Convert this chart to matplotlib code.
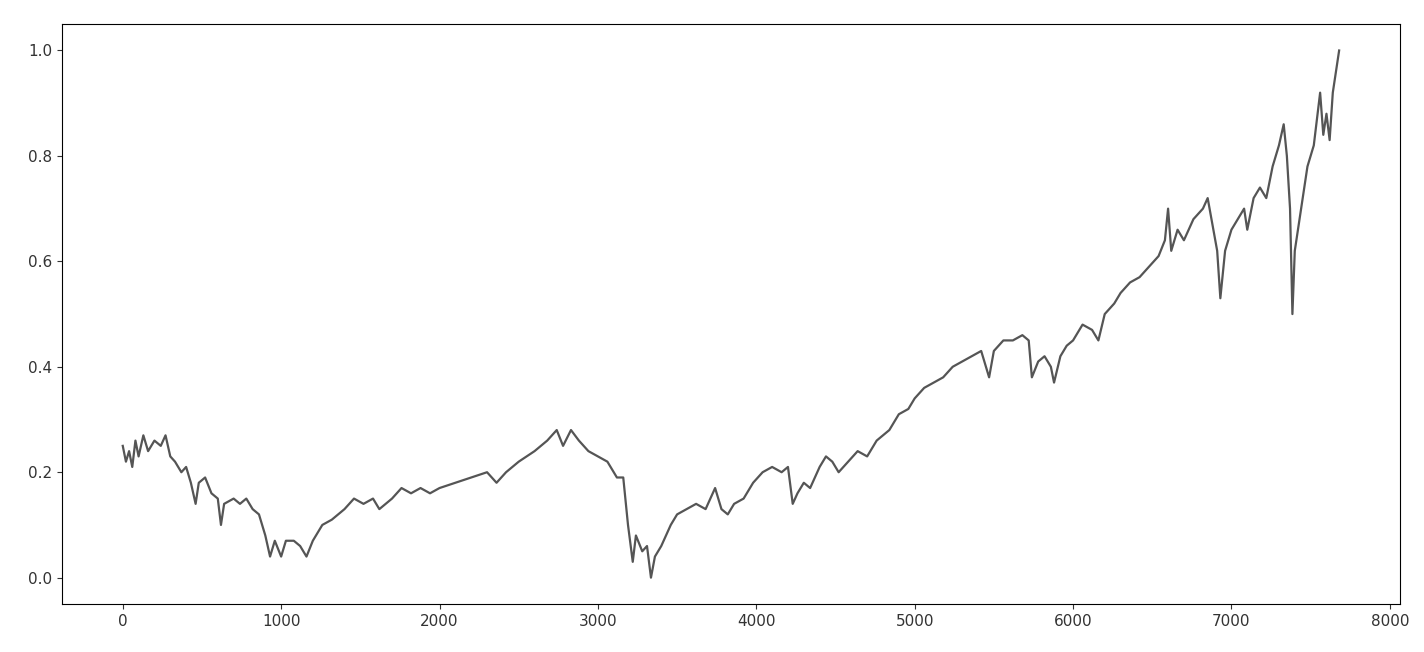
import matplotlib
matplotlib.use("Agg")
import matplotlib.pyplot as plt

x_vals = [0,20,40,60,80,100,130,160,200,240,270,300,330,370,400,430,460,480,520,560,600,620,640,700,740,780,820,860,900,930,960,1000,1030,1080,1120,1160,1200,1260,1320,1400,1460,1520,1580,1620,1700,1760,1820,1880,1940,2000,2100,2200,2300,2360,2420,2500,2600,2680,2740,2780,2830,2880,2940,3000,3060,3120,3160,3190,3220,3240,3280,3310,3335,3360,3400,3460,3500,3560,3620,3680,3740,3780,3820,3860,3920,3980,4040,4100,4160,4200,4230,4260,4300,4340,4400,4440,4480,4520,4580,4640,4700,4760,4840,4900,4960,5000,5060,5120,5180,5240,5300,5360,5420,5470,5500,5560,5620,5680,5720,5740,5780,5820,5860,5880,5920,5960,6000,6060,6120,6160,6200,6260,6300,6360,6420,6480,6540,6580,6600,6620,6660,6700,6760,6820,6850,6880,6910,6930,6960,7000,7040,7080,7100,7140,7180,7220,7260,7300,7330,7350,7370,7385,7400,7440,7480,7520,7560,7580,7600,7620,7640,7680]
y_vals = [0.25,0.22,0.24,0.21,0.26,0.23,0.27,0.24,0.26,0.25,0.27,0.23,0.22,0.20,0.21,0.18,0.14,0.18,0.19,0.16,0.15,0.10,0.14,0.15,0.14,0.15,0.13,0.12,0.08,0.04,0.07,0.04,0.07,0.07,0.06,0.04,0.07,0.10,0.11,0.13,0.15,0.14,0.15,0.13,0.15,0.17,0.16,0.17,0.16,0.17,0.18,0.19,0.20,0.18,0.20,0.22,0.24,0.26,0.28,0.25,0.28,0.26,0.24,0.23,0.22,0.19,0.19,0.10,0.03,0.08,0.05,0.06,0.00,0.04,0.06,0.10,0.12,0.13,0.14,0.13,0.17,0.13,0.12,0.14,0.15,0.18,0.20,0.21,0.20,0.21,0.14,0.16,0.18,0.17,0.21,0.23,0.22,0.20,0.22,0.24,0.23,0.26,0.28,0.31,0.32,0.34,0.36,0.37,0.38,0.40,0.41,0.42,0.43,0.38,0.43,0.45,0.45,0.46,0.45,0.38,0.41,0.42,0.40,0.37,0.42,0.44,0.45,0.48,0.47,0.45,0.50,0.52,0.54,0.56,0.57,0.59,0.61,0.64,0.70,0.62,0.66,0.64,0.68,0.70,0.72,0.67,0.62,0.53,0.62,0.66,0.68,0.70,0.66,0.72,0.74,0.72,0.78,0.82,0.86,0.80,0.70,0.50,0.62,0.70,0.78,0.82,0.92,0.84,0.88,0.83,0.92,1.00]

fig = plt.figure(figsize=(14.24, 6.52), dpi=100)
ax = fig.add_axes([0.0435, 0.0736, 0.9395, 0.8894])
ax.plot(x_vals, y_vals, color="#555555", lw=1.6)
ax.set_xlim(-384, 8063)
ax.set_ylim(-0.05, 1.05)
ax.set_xticks(range(0, 8001, 1000))
ax.set_yticks([0.0, 0.2, 0.4, 0.6, 0.8, 1.0])
ax.tick_params(labelsize=11, colors="#333333")
fig.savefig("out.png", dpi=100)
